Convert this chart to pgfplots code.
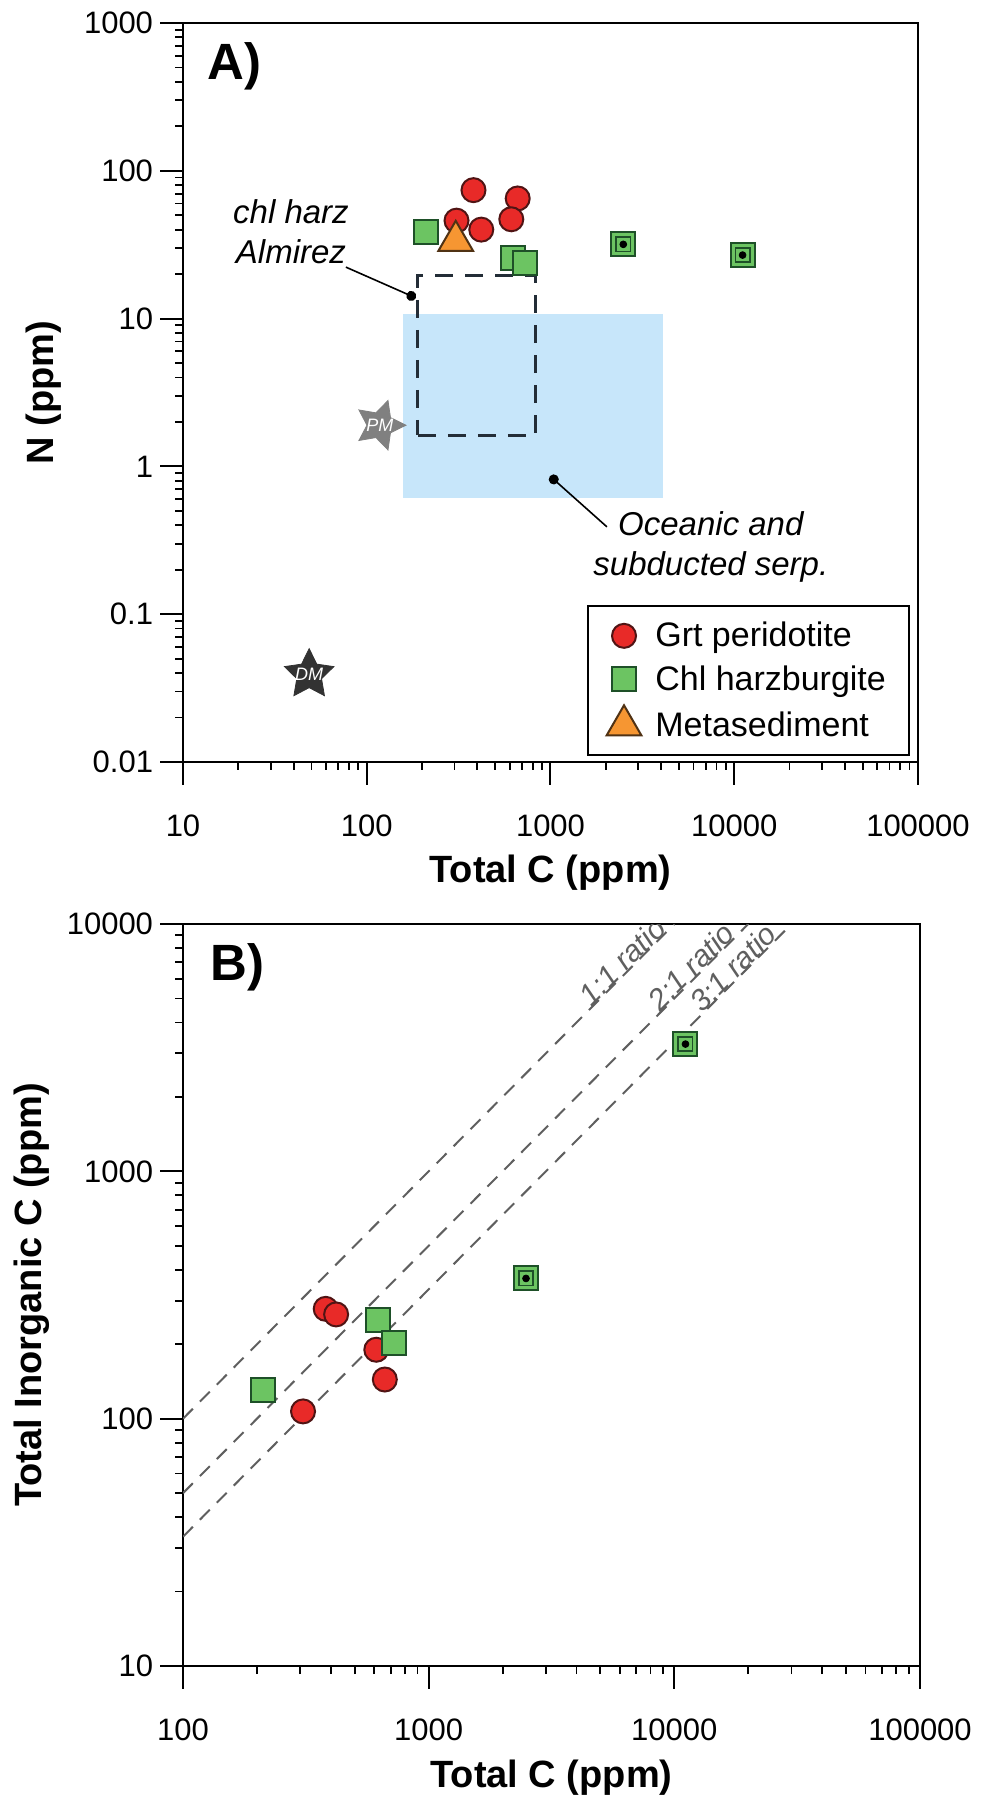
\documentclass[border=0pt]{standalone}
\usepackage{fontspec}
\setmainfont{Liberation Sans}
\usepackage{pgfplots}
\pgfplotsset{compat=1.18}
\usetikzlibrary{arrows.meta}

\definecolor{grtred}{RGB}{232,42,40}
\definecolor{grtedge}{RGB}{80,20,20}
\definecolor{chlgreen}{RGB}{108,196,98}
\definecolor{chledge}{RGB}{30,80,40}
\definecolor{metaorange}{RGB}{246,150,50}
\definecolor{metaedge}{RGB}{80,50,20}
\definecolor{serpblue}{RGB}{199,230,250}
\definecolor{pmgray}{RGB}{128,128,128}
\definecolor{dmgray}{RGB}{50,50,50}
\definecolor{boxdash}{RGB}{35,45,55}
\definecolor{ratiogray}{RGB}{95,95,95}

% filled five-pointed star
\pgfdeclareplotmark{fstar}{%
  \pgfpathmoveto{\pgfpointpolar{90}{\pgfplotmarksize}}%
  \pgfpathlineto{\pgfpointpolar{126}{0.5\pgfplotmarksize}}%
  \pgfpathlineto{\pgfpointpolar{162}{\pgfplotmarksize}}%
  \pgfpathlineto{\pgfpointpolar{198}{0.5\pgfplotmarksize}}%
  \pgfpathlineto{\pgfpointpolar{234}{\pgfplotmarksize}}%
  \pgfpathlineto{\pgfpointpolar{270}{0.5\pgfplotmarksize}}%
  \pgfpathlineto{\pgfpointpolar{306}{\pgfplotmarksize}}%
  \pgfpathlineto{\pgfpointpolar{342}{0.5\pgfplotmarksize}}%
  \pgfpathlineto{\pgfpointpolar{18}{\pgfplotmarksize}}%
  \pgfpathlineto{\pgfpointpolar{54}{0.5\pgfplotmarksize}}%
  \pgfpathclose
  \pgfusepathqfillstroke}

\newcommand{\tickfont}{\fontsize{15.5}{18}\selectfont}
\newcommand{\labfont}{\fontsize{19}{22}\selectfont\bfseries}
\newcommand{\notefont}{\fontsize{16.5}{20}\selectfont\itshape}
\newcommand{\ratiofont}{\fontsize{15}{17}\selectfont\itshape}

\pgfplotsset{
  panel/.style={
    scale only axis, anchor=south west,
    tick align=outside, tick pos=left,
    major tick length=11.5pt, minor tick length=4pt,
    axis line style={line width=1pt},
    major tick style={line width=1pt, black},
    minor tick style={line width=0.9pt, black},
    tick label style={font=\tickfont},
    xticklabel style={inner sep=1pt, yshift=-13.7pt},
    label style={font=\labfont},
    xlabel style={at={(axis description cs:0.5,-0.150)}, anchor=center, inner sep=1pt},
  },
  grt/.style={only marks, mark=*, mark size=6pt,
    mark options={fill=grtred, draw=grtedge, line width=1pt}},
  chl/.style={only marks, mark=square*, mark size=6pt,
    mark options={fill=chlgreen, draw=chledge, line width=1pt}},
  chlin/.style={forget plot, only marks, mark=square, mark size=3.6pt,
    mark options={draw=chledge, line width=0.8pt}},
  chldot/.style={forget plot, only marks, mark=*, mark size=1.7pt,
    mark options={fill=black, draw=black}},
  ratio/.style={forget plot, ratiogray, line width=1pt, dash pattern=on 7pt off 5pt},
  refstar/.style={forget plot, only marks, mark=fstar, mark size=13pt,
    nodes near coords={#1}, nodes near coords align={center},
    every node near coord/.append style={text=white,
      font=\fontsize{9}{9}\selectfont\itshape}},
}

\begin{document}
\begin{tikzpicture}
\useasboundingbox (0,0) rectangle (490.5pt,-899pt);

% ---------------- A) N vs total C
\begin{loglogaxis}[panel,
  at={(91.5pt,-381pt)}, width=367.5pt, height=369.5pt,
  xmin=10, xmax=100000, ymin=0.01, ymax=1000,
  xtick={10,100,1000,10000,100000},
  xticklabels={10,100,1000,10000,100000},
  ytick={0.01,0.1,1,10,100,1000},
  yticklabels={0.01,0.1,1,10,100,1000},
  minor xtick={20,30,40,50,60,70,80,90,200,300,400,500,600,700,800,900,
    2000,3000,4000,5000,6000,7000,8000,9000,
    20000,30000,40000,50000,60000,70000,80000,90000},
  minor ytick={0.02,0.03,0.04,0.05,0.06,0.07,0.08,0.09,
    0.2,0.3,0.4,0.5,0.6,0.7,0.8,0.9,2,3,4,5,6,7,8,9,
    20,30,40,50,60,70,80,90,200,300,400,500,600,700,800,900},
  xlabel={Total C (ppm)},
  ylabel={N (ppm)},
  ylabel style={at={(axis description cs:-0.19,0.5)}, anchor=center},
  legend cell align=left,
  legend style={at={(0.989,0.008)}, anchor=south east, draw=black,
    line width=1pt, font=\fontsize{17}{19}\selectfont,
    row sep=4pt, inner xsep=9.5pt, inner ysep=6pt},
]
% oceanic and subducted serpentinites field
\addplot[forget plot, fill=serpblue, draw=none]
  coordinates {(158,0.61) (4080,0.61) (4080,10.7) (158,10.7)} -- cycle;
% chl harz Almirez field
\addplot[forget plot, boxdash, line width=1.5pt, dash pattern=on 9pt off 6pt]
  coordinates {(190,1.63) (830,1.63) (830,19.7) (190,19.7)} -- cycle;
% PM and DM
\addplot[refstar=PM, mark options={fill=pmgray, draw=pmgray, rotate=-90}]
  coordinates {(118,1.9)};
\addplot[refstar=DM, mark options={fill=dmgray, draw=dmgray}]
  coordinates {(48.6,0.039)};

\addplot[grt] coordinates {(381,74) (663,65) (308,46) (420,40) (612,47)};
\addlegendentry{\hspace{5pt}Grt peridotite\hspace{8.5pt}}
\addplot[chl] coordinates {(211,38.6) (624,25.9) (723,23.9) (2490,31.8) (11100,26.9)};
\addlegendentry{\hspace{5pt}Chl harzburgite\hspace{8.5pt}}
\addplot[chlin] coordinates {(2490,31.8) (11100,26.9)};
\addplot[chldot] coordinates {(2490,31.8) (11100,26.9)};
\addplot[only marks, mark=triangle*, mark size=10pt,
  mark options={fill=metaorange, draw=metaedge, line width=1pt}] coordinates {(305,33.6)};
\addlegendentry{\hspace{5pt}Metasediment\hspace{8.5pt}}

\node[font=\notefont, align=center] at (axis cs:38.7,38.5) {chl harz\\Almirez};
\draw[line width=0.8pt, -{Circle[length=5pt]}] (axis cs:77,22.3) -- (axis cs:185,13.8);
\node[font=\notefont, align=center] at (axis cs:7460,0.285) {Oceanic and\\subducted serp.};
\draw[line width=0.8pt, -{Circle[length=5pt]}] (axis cs:2028,0.39) -- (axis cs:994,0.86);
\node[font=\fontsize{25.5}{28}\selectfont\bfseries, anchor=base west, inner sep=0pt]
  at (axis description cs:0.033,0.923) {A)};
\end{loglogaxis}

% ---------------- B) total inorganic C vs total C
\begin{loglogaxis}[panel,
  at={(91.5pt,-833pt)}, width=368.5pt, height=371pt,
  xmin=100, xmax=100000, ymin=10, ymax=10000,
  xtick={100,1000,10000,100000},
  xticklabels={100,1000,10000,100000},
  ytick={10,100,1000,10000},
  yticklabels={10,100,1000,10000},
  minor xtick={200,300,400,500,600,700,800,900,
    2000,3000,4000,5000,6000,7000,8000,9000,
    20000,30000,40000,50000,60000,70000,80000,90000},
  minor ytick={20,30,40,50,60,70,80,90,200,300,400,500,600,700,800,900,
    2000,3000,4000,5000,6000,7000,8000,9000},
  xlabel={Total C (ppm)},
  ylabel={Total Inorganic C (ppm)},
  ylabel style={at={(axis description cs:-0.205,0.5)}, anchor=center},
]
\addplot[ratio] coordinates {(100,100) (10000,10000)}
  node[pos=0.909, sloped, anchor=base, font=\ratiofont, text=ratiogray] {1:1 ratio};
\addplot[ratio] coordinates {(100,50) (20000,10000)}
  node[pos=0.912, sloped, anchor=base, font=\ratiofont, text=ratiogray] {2:1 ratio};
\addplot[ratio] coordinates {(100,33.33) (30000,10000)}
  node[pos=0.916, sloped, anchor=base, font=\ratiofont, text=ratiogray] {3:1 ratio};

\addplot[grt] coordinates {(381,278) (420,264) (612,190) (663,144) (308,107)};
\addplot[chl] coordinates {(211,131) (624,251) (723,203) (2490,369) (11100,3270)};
\addplot[chlin] coordinates {(2490,369) (11100,3270)};
\addplot[chldot] coordinates {(2490,369) (11100,3270)};

\node[font=\fontsize{25.5}{28}\selectfont\bfseries, anchor=base west, inner sep=0pt]
  at (axis description cs:0.037,0.924) {B)};
\end{loglogaxis}
\end{tikzpicture}
\end{document}
